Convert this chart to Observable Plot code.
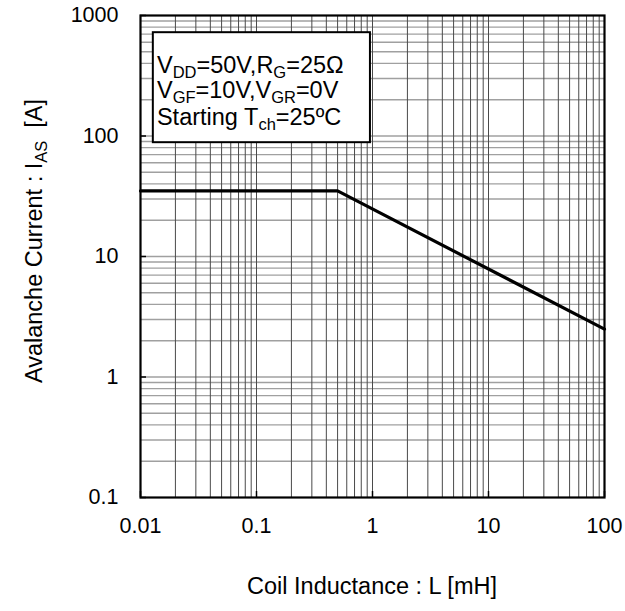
<!DOCTYPE html>
<html>
<head>
<meta charset="utf-8">
<script src="https://cdn.jsdelivr.net/npm/d3@7"></script>
<script src="https://cdn.jsdelivr.net/npm/@observablehq/plot@0.6"></script>
<style>
  html, body { margin: 0; padding: 0; background: #fff; }
  svg { font-family: "Liberation Sans", Arial, Helvetica, sans-serif; }
</style>
</head>
<body>
<div id="chart"></div>
<script>
// ---- data ----
const inductance = [0.01, 0.5, 100];     // L [mH]
const current    = [35, 35, 2.5];        // I_AS [A]
const xTicks = [0.01, 0.1, 1, 10, 100];
const yTicks = [0.1, 1, 10, 100, 1000];
const gridMultipliers = [1, 2, 3, 4, 5, 6, 7, 8, 9];

// annotation box in data coordinates, and text lines with subscripts
const boxL = [0.0129, 0.96];
const boxI = [88, 720];
const noteX = 0.014;
const noteY = [330, 205, 122];
const noteLines = [
  [["V", ""], ["DD", "sub"], ["=50V,R", ""], ["G", "sub"], ["=25\u03A9", ""]],
  [["V", ""], ["GF", "sub"], ["=10V,V", ""], ["GR", "sub"], ["=0V", ""]],
  [["Starting T", ""], ["ch", "sub"], ["=25\u00BAC", ""]]
];
const xTitle = "Coil Inductance : L [mH]";
const yTitle = [["Avalanche Current : I", ""], ["AS", "sub"], ["  [A]", ""]];

// ---- derived tables ----
const series = inductance.map((L, i) => ({L, I: current[i]}));
const gridX = xTicks.slice(0, -1).flatMap(d => gridMultipliers.map(m => d * m)).filter(v => v > 0.01 && v < 100);
const gridY = yTicks.slice(0, -1).flatMap(d => gridMultipliers.map(m => d * m)).filter(v => v > 0.1 && v < 1000);

const W = 625, H = 611;
const mL = 140, mR = 21, mT = 15, mB = 114;
const font = '"Liberation Sans", Arial, Helvetica, sans-serif';

const plot = Plot.plot({
  width: W,
  height: H,
  marginLeft: mL,
  marginRight: mR,
  marginTop: mT,
  marginBottom: mB,
  style: {fontFamily: font, background: "#fff", overflow: "visible"},
  x: {type: "log", domain: [0.01, 100], label: null},
  y: {type: "log", domain: [0.1, 1000], label: null},
  marks: [
    Plot.ruleY(gridY, {stroke: "#a0a0a0", strokeWidth: 1.3}),
    Plot.ruleX(gridX, {stroke: "#4a4a4a", strokeWidth: 1}),
    Plot.axisX(xTicks, {tickSize: -6, tickFormat: () => "", strokeWidth: 1.5, label: null}),
    Plot.axisY(yTicks, {tickSize: -6, tickFormat: () => "", strokeWidth: 1.5, label: null}),
    Plot.rect([{}], {x1: boxL[0], x2: boxL[1], y1: boxI[0], y2: boxI[1], fill: "#fff", stroke: "#000", strokeWidth: 2}),
    Plot.line(series, {x: "L", y: "I", stroke: "#000", strokeWidth: 3.2}),
    Plot.frame({stroke: "#000", strokeWidth: 2.2}),
    Plot.axisX(xTicks, {tickSize: 0, tickPadding: 20, fontSize: 21.5, tickFormat: d => String(d), label: null}),
    Plot.axisY(yTicks, {tickSize: 0, tickPadding: 22, fontSize: 21.5, tickFormat: d => String(d), label: null})
  ]
});

document.getElementById("chart").appendChild(plot);

const svg = d3.select(plot);
const xs = plot.scale("x"), ys = plot.scale("y");

function addRich(sel, parts, subSize) {
  parts.forEach(([t, kind]) => {
    const ts = sel.append("tspan").text(t);
    if (kind === "sub") {
      ts.attr("baseline-shift", "-28%").attr("font-size", subSize);
    }
  });
}

// annotation text
noteLines.forEach((line, i) => {
  const t = svg.append("text")
    .attr("x", xs.apply(noteX))
    .attr("y", ys.apply(noteY[i]))
    .attr("text-anchor", "start")
    .attr("font-size", 23.5)
    .attr("fill", "#000")
    .style("white-space", "pre");
  addRich(t, line, 16.5);
});

// x title
svg.append("text")
  .attr("x", (mL + (W - mR)) / 2)
  .attr("y", H - 17)
  .attr("text-anchor", "middle")
  .attr("font-size", 23.5)
  .attr("fill", "#000")
  .text(xTitle);

// y title
const yt = svg.append("text")
  .attr("transform", `translate(42,241) rotate(-90)`)
  .attr("text-anchor", "middle")
  .attr("font-size", 23.5)
  .attr("fill", "#000")
  .style("white-space", "pre");
addRich(yt, yTitle, 16.5);
</script>
</body>
</html>
